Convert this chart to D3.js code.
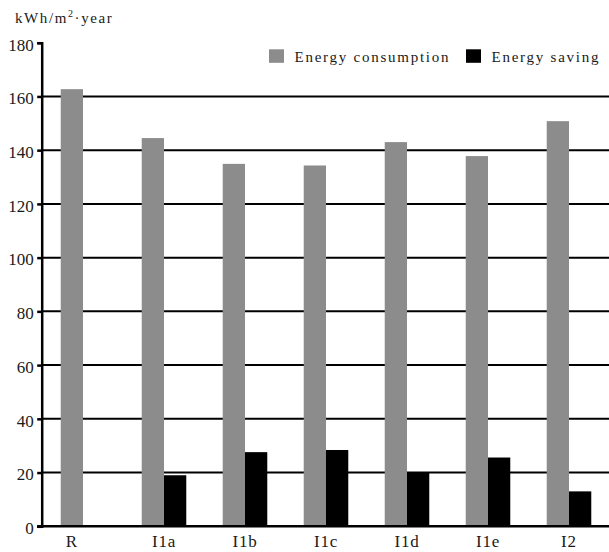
<!DOCTYPE html>
<html lang="en">
<head>
    <meta charset="UTF-8">
    <title>Energy consumption and saving</title>
    <style>
        body {
            margin: 0;
            background: #fff;
        }
        svg text {
            font-family: "Liberation Serif", "Times New Roman", serif;
            fill: #1a1a1a;
        }
    </style>
    <script src="https://cdn.jsdelivr.net/npm/d3@7"></script>
</head>
<body>
    <div id="chart"></div>
    <script>
        // Datos
        const categories = ["R", "I1a", "I1b", "I1c", "I1d", "I1e", "I2"];
        const consumption = [162.7, 144.5, 134.9, 134.3, 143.0, 137.8, 150.8];
        const saving = [null, 19.0, 27.6, 28.4, 20.2, 25.6, 13.0];
        const yTicks = [0, 20, 40, 60, 80, 100, 120, 140, 160, 180];
        const seriesNames = ["Energy consumption", "Energy saving"];
        const seriesColors = ["#8c8c8c", "#000000"];

        const width = 609;
        const height = 552;
        const axisX = 41.7;

        const svg = d3.select("#chart")
            .append("svg")
            .attr("width", width)
            .attr("height", height);

        // Escalas
        const x0 = d3.scaleBand()
            .domain(categories)
            .range([42.5, 609.5])
            .paddingInner(0.45)
            .paddingOuter(0.225);

        const x1 = d3.scaleBand()
            .domain([0, 1])
            .range([0, x0.bandwidth()]);

        const y = d3.scaleLinear()
            .domain([0, 180])
            .range([526.3, 42.7]);

        // Líneas horizontales de la rejilla (sin 180)
        svg.append("g")
            .selectAll("line")
            .data(yTicks.filter(d => d > 0 && d < 180))
            .join("line")
            .attr("x1", axisX)
            .attr("x2", width)
            .attr("y1", d => y(d))
            .attr("y2", d => y(d))
            .attr("stroke", "#000")
            .attr("stroke-width", 2);

        // Barras
        const rows = categories.map((c, i) => ({
            cat: c,
            vals: [consumption[i], saving[i]]
        }));

        const groups = svg.append("g")
            .selectAll("g")
            .data(rows)
            .join("g")
            .attr("transform", d => `translate(${x0(d.cat)},0)`);

        groups.selectAll("rect")
            .data(d => d.vals.map((v, k) => ({ v, k })).filter(e => e.v != null))
            .join("rect")
            .attr("x", e => x1(e.k))
            .attr("width", x1.bandwidth())
            .attr("y", e => y(e.v))
            .attr("height", e => y(0) - y(e.v))
            .attr("fill", e => seriesColors[e.k]);

        // Eje Y
        const yAxis = d3.axisLeft(y)
            .tickValues(yTicks)
            .tickSize(4.5)
            .tickPadding(3.5);

        const gy = svg.append("g")
            .attr("transform", `translate(${axisX},0)`)
            .call(yAxis);

        gy.select(".domain")
            .attr("stroke", "#000")
            .attr("stroke-width", 2.5);
        gy.selectAll(".tick line")
            .attr("stroke", "#000")
            .attr("stroke-width", 2.5);
        gy.selectAll(".tick text")
            .attr("font-size", "17px")
            .attr("dy", "0.43em")
            .attr("fill", "#1a1a1a");

        // Línea base (0)
        svg.append("line")
            .attr("x1", axisX - 4.5)
            .attr("x2", width)
            .attr("y1", y(0))
            .attr("y2", y(0))
            .attr("stroke", "#000")
            .attr("stroke-width", 2.5);

        // Etiquetas del eje X, centradas en las barras presentes
        svg.append("g")
            .selectAll("text")
            .data(rows)
            .join("text")
            .attr("x", d => {
                const n = d.vals.filter(v => v != null).length;
                return x0(d.cat) + x1.bandwidth() * n / 2;
            })
            .attr("y", 547)
            .attr("text-anchor", "middle")
            .attr("font-size", "17px")
            .attr("letter-spacing", "0.8px")
            .text(d => d.cat);

        // Título del eje Y
        const title = svg.append("text")
            .attr("x", 15)
            .attr("y", 23.3)
            .attr("font-size", "15px")
            .attr("letter-spacing", "1.6px");
        title.append("tspan").text("kWh/m");
        title.append("tspan")
            .attr("font-size", "10px")
            .attr("dy", -6)
            .text("2");
        title.append("tspan")
            .attr("dy", 6)
            .text("\u00B7year");

        // Leyenda
        const legendX = [269, 466];
        const legend = svg.append("g")
            .selectAll("g")
            .data(seriesNames)
            .join("g")
            .attr("transform", (d, i) => `translate(${legendX[i]},49.3)`);

        legend.append("rect")
            .attr("width", 15)
            .attr("height", 13.5)
            .attr("fill", (d, i) => seriesColors[i]);

        legend.append("text")
            .attr("x", 25.5)
            .attr("y", 12.4)
            .attr("font-size", "15px")
            .attr("letter-spacing", "1.75px")
            .text(d => d);
    </script>
</body>
</html>
